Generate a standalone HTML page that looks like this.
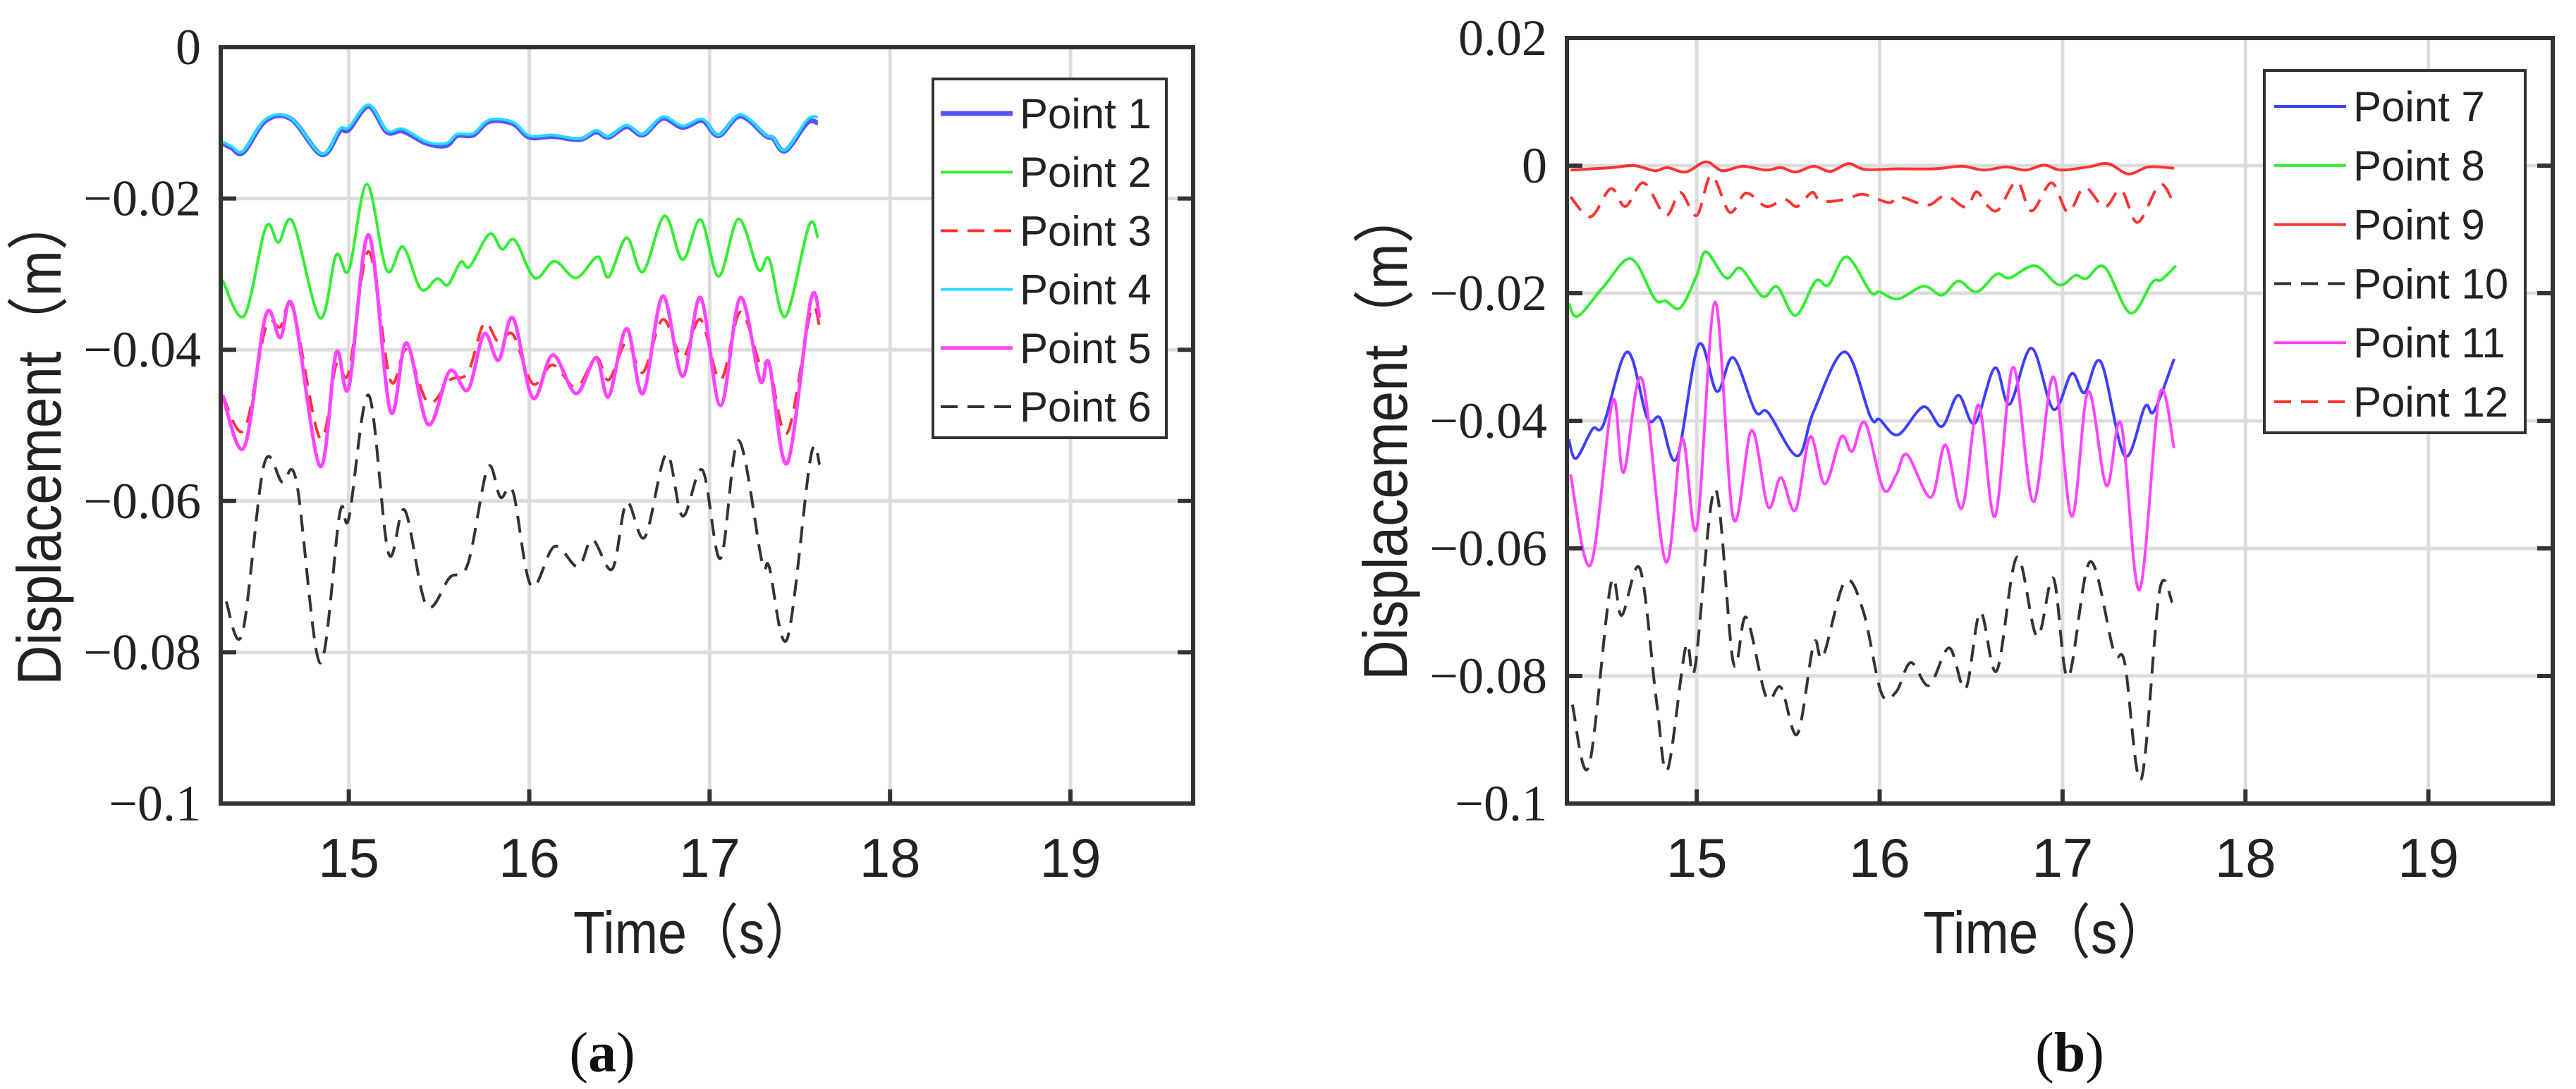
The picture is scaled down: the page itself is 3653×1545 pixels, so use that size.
<!DOCTYPE html>
<html><head><meta charset="utf-8"><style>
html,body{margin:0;padding:0;background:#fff;}
svg{display:block;}
</style></head><body>
<svg id="fig" width="3653" height="1545" viewBox="0 0 3653 1545" xmlns="http://www.w3.org/2000/svg"></svg>
<script>
// ---- Panel (a) data ----
const tP1 = [14.30,14.35,14.415,14.54,14.68,14.85,14.95,15.0,15.11,15.21,15.30,15.43,15.54,15.60,15.69,15.78,15.91,16.0,16.13,16.28,16.37,16.44,16.54,16.63,16.74,16.85,16.96,17.05,17.17,17.31,17.35,17.42,17.54,17.60];
const vP1 = [-0.0127,-0.0133,-0.0139,-0.0097,-0.0095,-0.0142,-0.0111,-0.0109,-0.0078,-0.0112,-0.0111,-0.0127,-0.0130,-0.0117,-0.0116,-0.0098,-0.0101,-0.0119,-0.0118,-0.0122,-0.0112,-0.0119,-0.0105,-0.0116,-0.0094,-0.0106,-0.0097,-0.0117,-0.0091,-0.0117,-0.0120,-0.0137,-0.0100,-0.0100];
const vP4 = [-0.0125,-0.0131,-0.0137,-0.0095,-0.0094,-0.0141,-0.0108,-0.0106,-0.0076,-0.0110,-0.0108,-0.0125,-0.0127,-0.0115,-0.0114,-0.0096,-0.0099,-0.0117,-0.0116,-0.0121,-0.0110,-0.0118,-0.0103,-0.0115,-0.0092,-0.0104,-0.0095,-0.0116,-0.0089,-0.0116,-0.0119,-0.0136,-0.0096,-0.0092];
const tP2 = [14.30,14.42,14.54,14.61,14.69,14.84,14.93,15.0,15.10,15.21,15.30,15.40,15.49,15.55,15.62,15.67,15.78,15.85,15.92,16.03,16.14,16.26,16.38,16.44,16.54,16.63,16.75,16.85,16.95,17.05,17.16,17.27,17.33,17.42,17.55,17.60];
const vP2 = [-0.0308,-0.0355,-0.0238,-0.0258,-0.0231,-0.0358,-0.0275,-0.0295,-0.0181,-0.0295,-0.0264,-0.0320,-0.0306,-0.0314,-0.0284,-0.0290,-0.0247,-0.0267,-0.0255,-0.0305,-0.0283,-0.0305,-0.0277,-0.0304,-0.0252,-0.0297,-0.0223,-0.0281,-0.0228,-0.0303,-0.0227,-0.0294,-0.0280,-0.0356,-0.0236,-0.0252];
const tP5 = [14.30,14.42,14.54,14.62,14.69,14.84,14.93,15.0,15.11,15.23,15.32,15.44,15.56,15.66,15.75,15.83,15.91,16.02,16.13,16.26,16.37,16.44,16.54,16.63,16.74,16.85,16.95,17.06,17.17,17.28,17.33,17.43,17.56,17.61];
const vP5 = [-0.0460,-0.0529,-0.0354,-0.0384,-0.0343,-0.0554,-0.0404,-0.0450,-0.0248,-0.0481,-0.0391,-0.0499,-0.0428,-0.0453,-0.0379,-0.0414,-0.0358,-0.0464,-0.0407,-0.0458,-0.0411,-0.0462,-0.0372,-0.0458,-0.0329,-0.0435,-0.0331,-0.0474,-0.0331,-0.0441,-0.0418,-0.0550,-0.0335,-0.0358];
const vP3 = [-0.0460,-0.0506,-0.0370,-0.0370,-0.0345,-0.0517,-0.0420,-0.0430,-0.0270,-0.0440,-0.0400,-0.0470,-0.0440,-0.0430,-0.0365,-0.0390,-0.0380,-0.0445,-0.0420,-0.0450,-0.0410,-0.0440,-0.0390,-0.0430,-0.0360,-0.0410,-0.0360,-0.0440,-0.0350,-0.0420,-0.0420,-0.0510,-0.0350,-0.0370];
const tP6 = [14.32,14.41,14.53,14.63,14.71,14.84,14.95,15.0,15.11,15.22,15.31,15.43,15.56,15.66,15.77,15.84,15.91,16.01,16.14,16.27,16.35,16.46,16.54,16.64,16.76,16.85,16.96,17.06,17.16,17.29,17.33,17.43,17.56,17.61];
const vP6 = [-0.0733,-0.0775,-0.0552,-0.0575,-0.0575,-0.0814,-0.0616,-0.0623,-0.0460,-0.0669,-0.0612,-0.0738,-0.0701,-0.0683,-0.0556,-0.0595,-0.0588,-0.0712,-0.0660,-0.0687,-0.0651,-0.0690,-0.0602,-0.0648,-0.0538,-0.0620,-0.0559,-0.0676,-0.0520,-0.0680,-0.0687,-0.0782,-0.0542,-0.0552];

// ---- Panel (b) data ----
const tP9 = [14.31,14.43,14.54,14.66,14.77,14.84,14.94,15.05,15.14,15.25,15.38,15.46,15.54,15.64,15.73,15.83,15.92,16.10,16.30,16.45,16.57,16.69,16.80,16.90,16.99,17.14,17.25,17.36,17.47,17.61];
const vP9 = [-0.0007,-0.0005,-0.0003,0.0000,-0.0008,-0.0003,-0.0010,0.0006,-0.0008,-0.0001,-0.0007,-0.0003,-0.0010,-0.0001,-0.0009,0.0003,-0.0006,-0.0005,-0.0005,-0.0001,-0.0007,-0.0002,-0.0007,0.0001,-0.0007,-0.0002,0.0003,-0.0013,-0.0002,-0.0004];
const tP12 = [14.31,14.42,14.53,14.61,14.71,14.83,14.91,15.0,15.08,15.18,15.27,15.38,15.48,15.55,15.63,15.68,15.81,15.91,16.05,16.11,16.26,16.36,16.47,16.53,16.59,16.65,16.75,16.83,16.94,17.03,17.12,17.23,17.32,17.41,17.53,17.60];
const vP12 = [-0.0049,-0.0080,-0.0036,-0.0064,-0.0027,-0.0078,-0.0042,-0.0078,-0.0015,-0.0073,-0.0043,-0.0064,-0.0053,-0.0064,-0.0042,-0.0056,-0.0053,-0.0045,-0.0058,-0.0049,-0.0062,-0.0047,-0.0065,-0.0041,-0.0063,-0.0069,-0.0025,-0.0071,-0.0027,-0.0073,-0.0034,-0.0065,-0.0038,-0.0089,-0.0030,-0.0054];
const tP8 = [14.30,14.35,14.49,14.64,14.77,14.83,14.91,15.0,15.05,15.16,15.24,15.36,15.44,15.54,15.65,15.72,15.82,15.95,16.0,16.10,16.24,16.34,16.43,16.53,16.64,16.71,16.85,16.98,17.07,17.13,17.23,17.37,17.49,17.54,17.62];
const vP8 = [-0.0216,-0.0236,-0.0190,-0.0146,-0.0209,-0.0212,-0.0223,-0.0172,-0.0135,-0.0176,-0.0161,-0.0205,-0.0190,-0.0235,-0.0181,-0.0187,-0.0143,-0.0198,-0.0198,-0.0209,-0.0189,-0.0203,-0.0181,-0.0198,-0.0170,-0.0176,-0.0157,-0.0187,-0.0172,-0.0177,-0.0159,-0.0231,-0.0183,-0.0179,-0.0157];
const tP7 = [14.30,14.34,14.43,14.49,14.62,14.73,14.80,14.89,15.01,15.11,15.20,15.32,15.39,15.55,15.64,15.81,15.95,16.0,16.10,16.24,16.34,16.43,16.52,16.63,16.71,16.83,16.95,17.05,17.12,17.21,17.34,17.45,17.50,17.61];
const vP7 = [-0.0429,-0.0459,-0.0413,-0.0406,-0.0292,-0.0396,-0.0396,-0.0459,-0.0281,-0.0354,-0.0301,-0.0385,-0.0387,-0.0455,-0.0385,-0.0292,-0.0394,-0.0398,-0.0422,-0.0378,-0.0409,-0.0360,-0.0404,-0.0317,-0.0374,-0.0286,-0.0382,-0.0326,-0.0356,-0.0308,-0.0455,-0.0378,-0.0385,-0.0303];
const tP11 = [14.31,14.42,14.54,14.60,14.70,14.83,14.92,15.0,15.10,15.20,15.30,15.39,15.46,15.54,15.62,15.70,15.79,15.85,15.92,16.02,16.09,16.15,16.28,16.36,16.45,16.54,16.63,16.73,16.84,16.95,17.05,17.14,17.24,17.32,17.42,17.53,17.61];
const vP11 = [-0.0484,-0.0626,-0.0369,-0.0481,-0.0334,-0.0621,-0.0428,-0.0568,-0.0214,-0.0553,-0.0415,-0.0535,-0.0489,-0.0540,-0.0425,-0.0499,-0.0425,-0.0448,-0.0403,-0.0507,-0.0485,-0.0453,-0.0520,-0.0438,-0.0537,-0.0375,-0.0550,-0.0316,-0.0527,-0.0331,-0.0550,-0.0354,-0.0502,-0.0405,-0.0665,-0.0359,-0.0443];
const tP10 = [14.32,14.41,14.53,14.59,14.69,14.78,14.84,14.94,14.99,15.10,15.20,15.27,15.38,15.46,15.55,15.64,15.69,15.81,15.91,16.01,16.09,16.17,16.27,16.38,16.47,16.55,16.64,16.75,16.86,16.95,17.03,17.15,17.28,17.34,17.43,17.53,17.60];
const vP10 = [-0.0845,-0.0942,-0.0657,-0.0705,-0.0632,-0.0840,-0.0947,-0.0754,-0.0787,-0.0507,-0.0779,-0.0708,-0.0833,-0.0818,-0.0891,-0.0749,-0.0770,-0.0652,-0.0698,-0.0827,-0.0825,-0.0779,-0.0815,-0.0756,-0.0820,-0.0700,-0.0792,-0.0614,-0.0738,-0.0647,-0.0802,-0.0621,-0.0761,-0.0780,-0.0962,-0.0667,-0.0685];

const xTicks = [15,16,17,18,19];
const yTicksA = [0,-0.02,-0.04,-0.06,-0.08,-0.1];
const yTickLabelsA = ["0","\u22120.02","\u22120.04","\u22120.06","\u22120.08","\u22120.1"];
const yTicksB = [0.02,0,-0.02,-0.04,-0.06,-0.08,-0.1];
const yTickLabelsB = ["0.02","0","\u22120.02","\u22120.04","\u22120.06","\u22120.08","\u22120.1"];
const legendA = ["Point 1","Point 2","Point 3","Point 4","Point 5","Point 6"];
const legendB = ["Point 7","Point 8","Point 9","Point 10","Point 11","Point 12"];

const NS = "http://www.w3.org/2000/svg";
const svg = document.getElementById('fig');
function mk(tag, attrs, parent){
  const e = document.createElementNS(NS, tag);
  for (const k in attrs) e.setAttribute(k, attrs[k]);
  (parent||svg).appendChild(e);
  return e;
}
function smoothPath(pts){
  let d = "M"+pts[0][0].toFixed(1)+","+pts[0][1].toFixed(1);
  for (let i=0;i<pts.length-1;i++){
    const p0=pts[Math.max(0,i-1)], p1=pts[i], p2=pts[i+1], p3=pts[Math.min(pts.length-1,i+2)];
    const c1x=p1[0]+(p2[0]-p0[0])/6, c1y=p1[1]+(p2[1]-p0[1])/6;
    const c2x=p2[0]-(p3[0]-p1[0])/6, c2y=p2[1]-(p3[1]-p1[1])/6;
    d += " C"+c1x.toFixed(1)+","+c1y.toFixed(1)+" "+c2x.toFixed(1)+","+c2y.toFixed(1)+" "+p2[0].toFixed(1)+","+p2[1].toFixed(1);
  }
  return d;
}

function panel(cfg){
  const g = mk('g', {});
  
  
  const X = t => cfg.L + (t - cfg.xmin) / (cfg.xmax - cfg.xmin) * (cfg.R - cfg.L);
  const Y = v => cfg.T + (cfg.ymax - v) / (cfg.ymax - cfg.ymin) * (cfg.B - cfg.T);
  xTicks.forEach(t=>{
    const l = mk('line',{x1:X(t),x2:X(t),y1:cfg.T,y2:cfg.B,stroke:'#dcdcdc','stroke-width':5},g);
    
    
  });
  cfg.yTicks.forEach(v=>{
    const l = mk('line',{x1:cfg.L,x2:cfg.R,y1:Y(v),y2:Y(v),stroke:'#dcdcdc','stroke-width':5},g);
    
    
  });
  cfg.series.forEach(s=>{
    const pts = s.t.map((t,i)=>[X(t), Y(s.v[i])]);
    const p = mk('path',{d:smoothPath(pts),fill:'none',stroke:s.color,'stroke-width':s.w,'stroke-linejoin':'round'},g);
    if (s.dash) p.setAttribute('stroke-dasharray', s.dash);
    
    
  });
  xTicks.forEach(t=>{
    const tk = mk('line',{x1:X(t),x2:X(t),y1:cfg.B,y2:cfg.B-20,stroke:'#333','stroke-width':6},g);
    
    
    const tx = mk('text',{x:X(t),y:1244,'text-anchor':'middle','font-family':'Liberation Sans, sans-serif','font-size':78,fill:'#222'},g);
    tx.textContent = t;
    
    
  });
  cfg.yTicks.forEach((v,i)=>{
    const tk = mk('line',{x1:cfg.L,x2:cfg.L+22,y1:Y(v),y2:Y(v),stroke:'#333','stroke-width':6},g);
    
    
    const tk2 = mk('line',{x1:cfg.R,x2:cfg.R-22,y1:Y(v),y2:Y(v),stroke:'#333','stroke-width':6},g);
    
    
    const tx = mk('text',{x:cfg.L-28,y:Y(v)+24,'text-anchor':'end','font-family':'Liberation Serif, serif','font-size':72,fill:'#222'},g);
    tx.textContent = cfg.yLabels[i];
    
    
  });
  const box = mk('rect',{x:cfg.L,y:cfg.T,width:cfg.R-cfg.L,height:cfg.B-cfg.T,fill:'none',stroke:'#333','stroke-width':6},g);
  
  
  const xt = mk('text',{x:cfg.xtX,y:1352,'font-family':'Liberation Sans, Noto Sans CJK SC, sans-serif','font-size':84,fill:'#222',textLength:cfg.xtLen,lengthAdjust:'spacingAndGlyphs'},g);
  xt.textContent = 'Time（s）';
  
  
  const yt = mk('text',{x:0,y:0,'font-family':'Liberation Sans, Noto Sans CJK SC, sans-serif','font-size':88,fill:'#222',textLength:cfg.ytLen,lengthAdjust:'spacingAndGlyphs',transform:'translate('+cfg.ytX+','+cfg.ytY+') rotate(-90)'},g);
  yt.textContent = 'Displacement（m）';
  
  
  const lg = mk('g',{},g);
  
  
  const lb = mk('rect',{x:cfg.lgX,y:cfg.lgY,width:cfg.lgW,height:cfg.lgH,fill:'#fff',stroke:'#333','stroke-width':4},lg);
  
  
  cfg.series.forEach((s,i)=>{
    const yy = cfg.lgRow0 + i*cfg.lgStep;
    const ln = mk('line',{x1:cfg.lgLine0,x2:cfg.lgLine0+102,y1:yy,y2:yy,stroke:s.color,'stroke-width':s.w},lg);
    if (s.dash) ln.setAttribute('stroke-dasharray', s.dash);
    
    
    const tx = mk('text',{x:cfg.lgLine0+112,y:yy+21,'font-family':'Liberation Sans, sans-serif','font-size':60,fill:'#222'},lg);
    tx.textContent = cfg.labels[i];
    
    
  });
  const pl = mk('text',{x:cfg.plX,y:1520,'text-anchor':'middle','font-family':'Liberation Serif, serif','font-size':80,fill:'#111'},g);
  pl.innerHTML = '(<tspan font-weight="bold">'+cfg.plLetter+'</tspan>)';
  
  
}

panel({name:'panel-a', L:313,R:1692,T:67,B:1140,xmin:14.29,xmax:19.68,ymin:-0.1,ymax:0,
  yTicks:yTicksA, yLabels:yTickLabelsA,
  series:[
    {id:'line-point-1',t:tP1,v:vP1,color:'#5555ff',w:7},
    {id:'line-point-2',t:tP2,v:vP2,color:'#33ee33',w:4},
    {id:'line-point-3',t:tP5,v:vP3,color:'#ff3333',w:4,dash:'24,14'},
    {id:'line-point-4',t:tP1,v:vP4,color:'#22ddff',w:4},
    {id:'line-point-5',t:tP5,v:vP5,color:'#ff44ff',w:5},
    {id:'line-point-6',t:tP6,v:vP6,color:'#333333',w:4,dash:'24,14'}
  ], labels:legendA,
  xtX:813, xtLen:345, ytX:86, ytY:972, ytLen:695,
  lgX:1323,lgY:112,lgW:331,lgH:509,lgRow0:161,lgStep:83.2,lgLine0:1334,
  plX:854, plLetter:'a'});

panel({name:'panel-b', L:2222,R:3620,T:54,B:1140,xmin:14.29,xmax:19.68,ymin:-0.1,ymax:0.02,
  yTicks:yTicksB, yLabels:yTickLabelsB,
  series:[
    {id:'line-point-7',t:tP7,v:vP7,color:'#3f3fff',w:4},
    {id:'line-point-8',t:tP8,v:vP8,color:'#33ee33',w:4},
    {id:'line-point-9',t:tP9,v:vP9,color:'#ff3333',w:4},
    {id:'line-point-10',t:tP10,v:vP10,color:'#333333',w:4,dash:'24,14'},
    {id:'line-point-11',t:tP11,v:vP11,color:'#ff44ff',w:4},
    {id:'line-point-12',t:tP12,v:vP12,color:'#ff3333',w:4,dash:'24,14'}
  ], labels:legendB,
  xtX:2727, xtLen:350, ytX:1995, ytY:965, ytLen:698,
  lgX:3211,lgY:100,lgW:370,lgH:514,lgRow0:151,lgStep:83.8,lgLine0:3225,
  plX:2935, plLetter:'b'});
</script>
</body></html>
